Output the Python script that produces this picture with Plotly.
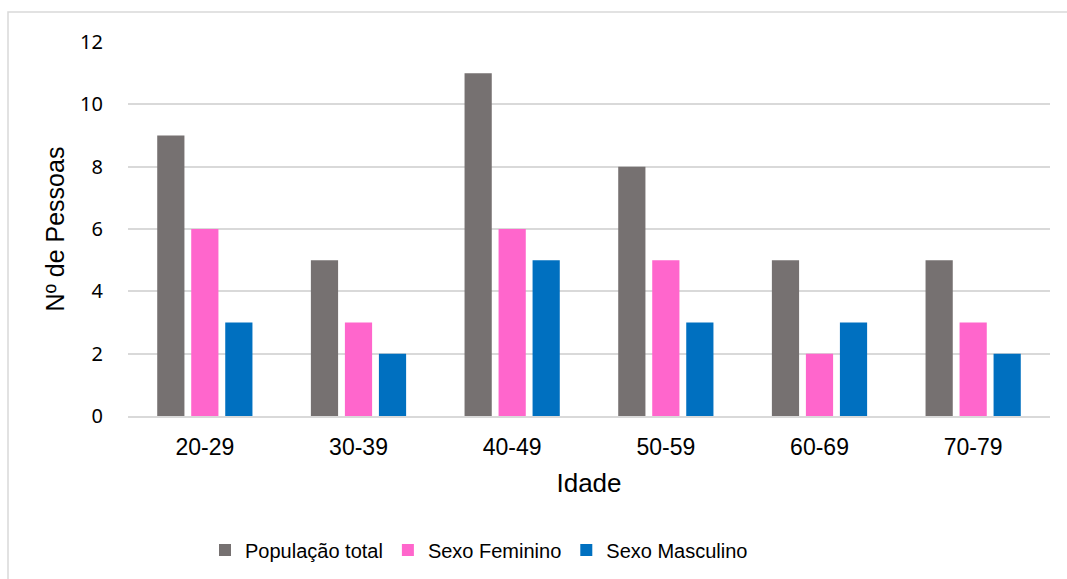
import plotly.graph_objects as go

# Faixas etárias e contagens por grupo
idades = ["20-29", "30-39", "40-49", "50-59", "60-69", "70-79"]
populacao_total = [9, 5, 11, 8, 5, 5]
sexo_feminino = [6, 3, 6, 5, 2, 3]
sexo_masculino = [3, 2, 5, 3, 3, 2]

y_ticks = [0, 2, 4, 6, 8, 10, 12]

W, H = 1067, 579
L, R, T, B = 128, 17, 42, 163
pw, ph = W - L - R, H - T - B


def px_x(x):
    return (x - L) / pw


def px_y(y):
    return (H - B - y) / ph


fig = go.Figure()
fig.add_trace(go.Bar(name="População total", x=idades, y=populacao_total,
                     marker=dict(color="#767171", line=dict(width=0))))
fig.add_trace(go.Bar(name="Sexo Feminino", x=idades, y=sexo_feminino,
                     marker=dict(color="#FF66CC", line=dict(width=0))))
fig.add_trace(go.Bar(name="Sexo Masculino", x=idades, y=sexo_masculino,
                     marker=dict(color="#0070C0", line=dict(width=0))))

font_main = "Liberation Sans, Arial, sans-serif"

fig.update_layout(
    width=W, height=H,
    margin=dict(l=L, r=R, t=T, b=B, autoexpand=False),
    paper_bgcolor="white", plot_bgcolor="white",
    barmode="group", bargap=0.336, bargroupgap=0.2,
    font=dict(family=font_main, color="#000000"),
    showlegend=True,
    legend=dict(orientation="h", x=px_x(205), xanchor="left", y=px_y(550), yanchor="middle",
                font=dict(size=20, family=font_main),
                itemwidth=30, traceorder="normal", bgcolor="rgba(0,0,0,0)"),
    xaxis=dict(
        showgrid=False, showline=True, linecolor="#D9D9D9", linewidth=1.5,
        ticks="", tickfont=dict(size=23, family=font_main),
        ticklabelstandoff=10,
        title=dict(text="Idade", font=dict(size=26, family=font_main), standoff=14),
    ),
    yaxis=dict(
        range=[0, 12], tickvals=y_ticks, showgrid=True, gridcolor="#D9D9D9", gridwidth=1.5,
        zeroline=False, showline=False, ticks="",
        tickfont=dict(size=20, family="Noto Sans, sans-serif"),
        ticklabelstandoff=24,
        title=dict(text="Nº de Pessoas", font=dict(size=25, family=font_main), standoff=8),
    ),
    shapes=[dict(type="rect", xref="paper", yref="paper",
                 x0=px_x(8), x1=px_x(W + 5), y0=px_y(H + 5), y1=px_y(12),
                 line=dict(color="#D9D9D9", width=1.5), fillcolor="rgba(0,0,0,0)",
                 layer="below")],
)

fig.write_html("out.html")
